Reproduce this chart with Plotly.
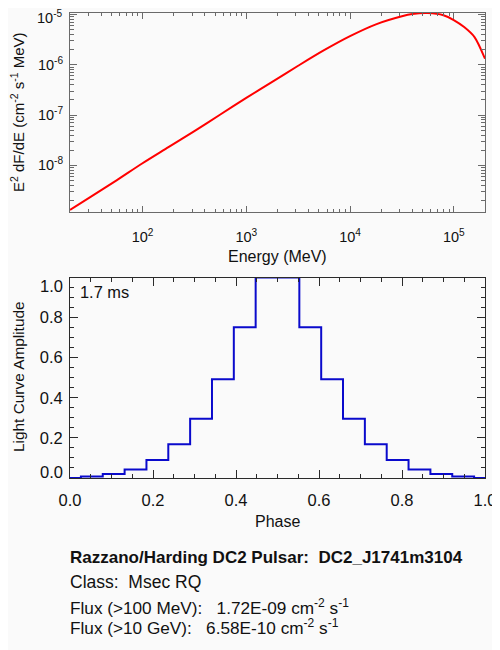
import plotly.graph_objects as go

# ---- data ----
energy_mev = [20, 31.6, 56.2, 100, 177.8, 316.2, 562.3, 1000, 1778, 3162, 5623, 10000, 17783,
              31623, 39811, 56234, 79433, 100000, 125893, 158489, 200000]
e2dfde = [1.288e-9, 2.344e-9, 5.01e-9, 1.096e-8, 2.29e-8, 4.79e-8, 1.023e-7, 2.188e-7, 4.57e-7,
          9.55e-7, 1.95e-6, 3.715e-6, 6.38e-6, 9.23e-6, 1.023e-5, 1.067e-5, 9.66e-6, 7.76e-6,
          5.62e-6, 3.55e-6, 1.318e-6]

phase = [k / 19 for k in range(20)]
amplitude = [0.0, 0.007, 0.02, 0.043, 0.09, 0.168, 0.295, 0.493, 0.752, 1.0,
             1.0, 0.752, 0.493, 0.295, 0.168, 0.09, 0.043, 0.02, 0.007, 0.0]

top_xticks = [1e2, 1e3, 1e4, 1e5]
top_xtext = ["10<sup>2</sup>", "10<sup>3</sup>", "10<sup>4</sup>", "10<sup>5</sup>"]
top_yticks = [1e-8, 1e-7, 1e-6, 1e-5]
top_ytext = ["10<sup>-8</sup>", "10<sup>-7</sup>", "10<sup>-6</sup>", "10<sup>-5</sup>"]
lc_ticks = [0.0, 0.2, 0.4, 0.6, 0.8, 1.0]
lc_text = ["0.0", "0.2", "0.4", "0.6", "0.8", "1.0"]

period_label = "1.7 ms"
info_lines = [
    "<b>Razzano/Harding DC2 Pulsar:\u00a0\u00a0DC2_J1741m3104</b>",
    "Class:\u00a0\u00a0Msec RQ",
    "Flux (>100 MeV):\u00a0\u00a0\u00a01.72E-09 cm<sup>-2</sup> s<sup>-1</sup>",
    "Flux (>10 GeV):\u00a0\u00a0\u00a06.58E-10 cm<sup>-2</sup> s<sup>-1</sup>",
]
info_sizes = [17, 17.5, 17.2, 17.2]
info_ypx = [557, 582, 607, 627]

FONT = "Liberation Sans, Arial, sans-serif"
BG = "#fafafa"
INK = "#111111"
OFF = 8  # page body margin in the browser
W, H = 500 - OFF, 650 - OFF
ML, MR, MT, MB = 70 - OFF, 15, 13 - OFF, 172
PH = H - MT - MB


def py(win_px):  # window pixel y -> paper y
    return (H - MB - (win_px - OFF)) / PH


fig = go.Figure()
fig.add_trace(go.Scatter(x=energy_mev, y=e2dfde, mode="lines",
                         line=dict(color="#ff0000", width=2, shape="spline", smoothing=0.8),
                         xaxis="x", yaxis="y", showlegend=False, hoverinfo="skip"))
fig.add_trace(go.Scatter(x=phase, y=amplitude, mode="lines", line=dict(color="#0a0acc", width=2, shape="hvh"),
                         xaxis="x2", yaxis="y2", showlegend=False, hoverinfo="skip"))

x_minor = [k * 10 ** n for n in range(1, 6) for k in range(2, 10) if 20 <= k * 10 ** n <= 2e5]
y_minor = [k * 10 ** n for n in range(-9, -4) for k in range(2, 10) if 1.1e-9 <= k * 10 ** n <= 1.08e-5]

axis_common = dict(showgrid=False, zeroline=False, ticks="inside", mirror="ticks", showline=True,
                   automargin=False, tickmode="array")

TOPC = "#6a6a6a"
BOTC = "#2a2a2a"
fig.update_layout(
    width=W, height=H, margin=dict(l=ML, r=MR, t=MT, b=MB),
    paper_bgcolor=BG, plot_bgcolor=BG,
    font=dict(family=FONT, size=14, color=INK),
    xaxis=dict(type="log", range=[1.301, 5.301], domain=[0, 1], anchor="y",
               tickvals=top_xticks, ticktext=top_xtext, ticklen=6,
               linecolor=TOPC, tickcolor=TOPC, ticklabelstandoff=12,
               tickfont=dict(family=FONT, size=14.5, color=INK),
               minor=dict(tickmode="array", tickvals=x_minor, ticks="inside", ticklen=3, tickcolor=TOPC),
               **axis_common),
    yaxis=dict(type="log", range=[-8.93, -4.97], domain=[py(212), 1], anchor="x",
               tickvals=top_yticks, ticktext=top_ytext[:-1] + [""], ticklen=7,
               linecolor=TOPC, tickcolor=TOPC, ticklabelstandoff=3,
               tickfont=dict(family=FONT, size=14.5, color=INK),
               minor=dict(tickmode="array", tickvals=y_minor, ticks="inside", ticklen=4, tickcolor=TOPC),
               **axis_common),
    xaxis2=dict(range=[0, 1], domain=[0, 1], anchor="y2", tickvals=lc_ticks, ticktext=lc_text,
                ticklen=8, linecolor=BOTC, tickcolor=BOTC, ticklabelstandoff=7,
                tickfont=dict(family=FONT, size=16.5, color=INK),
                minor=dict(dtick=0.05, ticks="inside", ticklen=4, tickcolor=BOTC),
                **axis_common),
    yaxis2=dict(range=[0, 1.0], domain=[0, py(277.5)], anchor="x2", tickvals=lc_ticks,
                ticktext=[""] + lc_text[1:-1] + [""],
                ticklen=8, linecolor=BOTC, tickcolor=BOTC, ticklabelstandoff=3,
                tickfont=dict(family=FONT, size=16.5, color=INK),
                minor=dict(dtick=0.05, ticks="inside", ticklen=4, tickcolor=BOTC),
                **axis_common),
)

ann = []
# edge tick labels, nudged inside the frame like the reference
ann.append(dict(text=top_ytext[-1], xref="paper", yref="paper", x=0, xshift=-5, y=py(17), xanchor="right",
                yanchor="middle", showarrow=False, font=dict(size=14.5)))
ann.append(dict(text=lc_text[-1], xref="paper", yref="paper", x=0, xshift=-5, y=py(286), xanchor="right",
                yanchor="middle", showarrow=False, font=dict(size=16.5)))
ann.append(dict(text=lc_text[0], xref="paper", yref="paper", x=0, xshift=-5, y=py(472), xanchor="right",
                yanchor="middle", showarrow=False, font=dict(size=16.5)))

ann.append(dict(text="Energy (MeV)", xref="paper", yref="paper", x=0.5, y=py(257), xanchor="center",
                yanchor="middle", showarrow=False, font=dict(size=16)))
ann.append(dict(text="Phase", xref="paper", yref="paper", x=0.5, y=py(521), xanchor="center",
                yanchor="middle", showarrow=False, font=dict(size=16)))
ann.append(dict(text="E<sup>2</sup> dF/dE (cm<sup>-2</sup> s<sup>-1</sup> MeV)", xref="paper", yref="paper",
                x=0, xshift=17 - 70, y=py(112), xanchor="center", yanchor="middle", textangle=-90,
                showarrow=False, font=dict(size=15)))
ann.append(dict(text="Light Curve Amplitude", xref="paper", yref="paper",
                x=0, xshift=18 - 70, y=py(377), xanchor="center", yanchor="middle", textangle=-90,
                showarrow=False, font=dict(size=15.4)))
ann.append(dict(text=period_label, xref="paper", yref="paper", x=0, xshift=80 - 70 - 2, y=py(292),
                xanchor="left", yanchor="middle", showarrow=False, font=dict(size=16.4)))
for txt, ypx, fs in zip(info_lines, info_ypx, info_sizes):
    ann.append(dict(text=txt, xref="paper", yref="paper", x=0, xshift=-2, y=py(ypx), xanchor="left",
                    yanchor="middle", showarrow=False, font=dict(size=fs)))
fig.update_layout(annotations=ann)

fig.write_html("out.html")
